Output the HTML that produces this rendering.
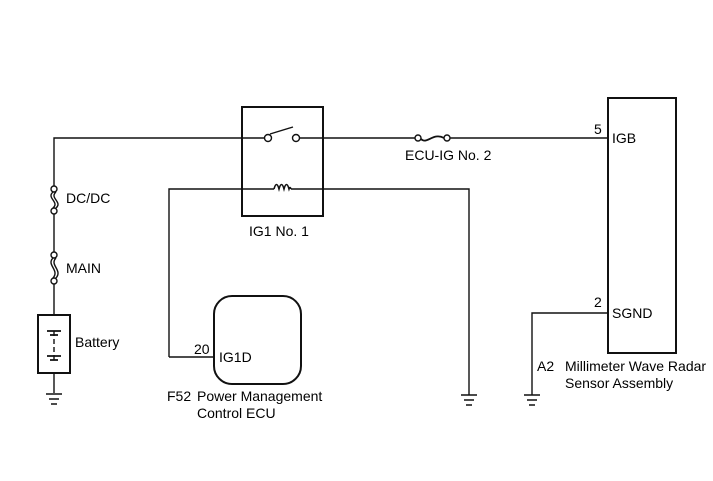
<!DOCTYPE html>
<html><head><style>
html,body{margin:0;padding:0;background:#fff;}
svg{display:block;}
text{font-family:"Liberation Sans",Arial,sans-serif;font-size:14px;fill:#000;}
</style></head><body>
<svg width="713" height="481" viewBox="0 0 713 481" xmlns="http://www.w3.org/2000/svg">
<g stroke="#111" stroke-width="1.4" fill="none">
<path d="M54 187 V138 H264"/>
<path d="M300 138 H415"/>
<path d="M450 138 H608"/>
<circle cx="268" cy="138" r="3.5" fill="#fff"/>
<circle cx="296" cy="138" r="3.5" fill="#fff"/>
<path d="M270 134 L293 127"/>
<rect x="242" y="107" width="81" height="109" stroke-width="2"/>
<path d="M169 357 V189 H274"/>
<path d="M291 189 H469 V395"/>
<path d="M274 189 q2.5 -9 5 0 q2.5 -9 5 0 q2.5 -9 5 0 q1 -3 2 0" stroke-width="1.6"/>
<rect x="214" y="296" width="87" height="88" rx="18" stroke-width="2"/>
<path d="M169 357 H214"/>
<circle cx="54" cy="189" r="3" fill="#fff"/>
<circle cx="54" cy="211" r="3" fill="#fff"/>
<path d="M53 192 c-7 6 7 10 0 16 M56 192 c-7 6 7 10 0 16"/>
<path d="M54 214 V252"/>
<circle cx="54" cy="255" r="3" fill="#fff"/>
<circle cx="54" cy="281" r="3" fill="#fff"/>
<path d="M53 258 c-7 7 7 12 0 20 M56 258 c-7 7 7 12 0 20"/>
<path d="M54 284 V315"/>
<rect x="38" y="315" width="32" height="58" stroke-width="2"/>
<path d="M47 331 H61 M50 335 H58 M47 356 H61 M50 360 H58" stroke-width="1.8"/>
<path d="M54 331 V360" stroke-dasharray="5 3"/>
<path d="M54 373 V393"/>
<path d="M46 394 H62 M49 399 H59 M51 404 H57"/>
<circle cx="418" cy="138" r="3" fill="#fff"/>
<circle cx="447" cy="138" r="3" fill="#fff"/>
<path d="M421 139 c6 6 12 -7 23 -1" stroke-width="1.8"/>
<path d="M461 395 H477 M464 400 H474 M466 405 H472"/>
<rect x="608" y="98" width="68" height="255" stroke-width="2"/>
<path d="M608 313 H532 V395"/>
<path d="M524 395 H540 M527 400 H537 M529 405 H535"/>
</g>
<text x="249" y="236">IG1 No. 1</text>
<text x="66" y="203">DC/DC</text>
<text x="66" y="273">MAIN</text>
<text x="75" y="347">Battery</text>
<text x="194" y="354">20</text>
<text x="219" y="362">IG1D</text>
<text x="167" y="401">F52</text>
<text x="197" y="401">Power Management</text>
<text x="197" y="418">Control ECU</text>
<text x="594" y="134">5</text>
<text x="612" y="143">IGB</text>
<text x="405" y="160">ECU-IG No. 2</text>
<text x="594" y="307">2</text>
<text x="612" y="318">SGND</text>
<text x="537" y="371">A2</text>
<text x="565" y="371">Millimeter Wave Radar</text>
<text x="565" y="388">Sensor Assembly</text>
</svg>
</body></html>
